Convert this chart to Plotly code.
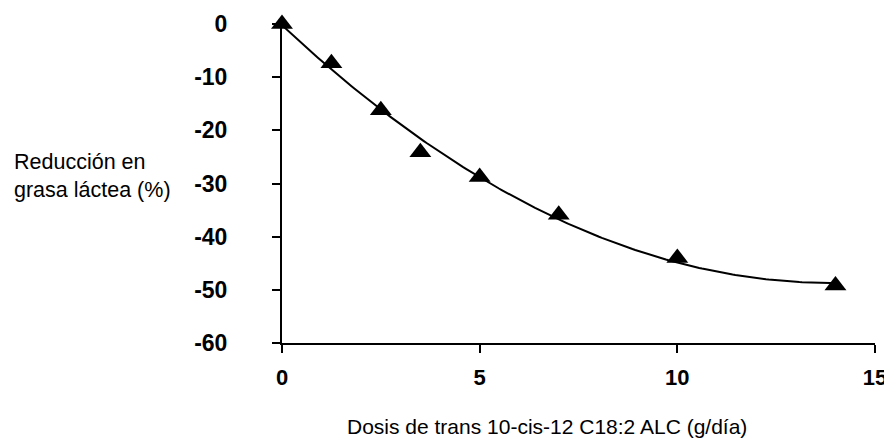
import numpy as np
import plotly.graph_objects as go

# Data
dosis = [0, 1.25, 2.5, 3.5, 5, 7, 10, 14]
reduccion = [0, -7.4, -16.2, -24.1, -28.8, -35.9, -44.0, -49.2]
x_ticks = [0, 5, 10, 15]
y_ticks = [0, -10, -20, -30, -40, -50, -60]

# Polynomial (order 2) trendline, as in the original chart
coef = np.polyfit(dosis, reduccion, 2)
xt = np.linspace(min(dosis), max(dosis), 200)
yt = np.polyval(coef, xt)

# page body has an 8px margin: the figure is sized so that it fills the window
OFF = 8
W, H = 892 - OFF, 439 - OFF
L, R, T, B = 282 - OFF, 17, 24 - OFF, 96
plot_w = W - L - R
plot_h = H - T - B
FONT = "Liberation Sans, Arial, sans-serif"


def px_x(x):  # window pixel -> paper x
    return (x - OFF - L) / plot_w


def px_y(y):  # window pixel -> paper y
    return (H - B - (y - OFF)) / plot_h


fig = go.Figure()
fig.add_trace(go.Scatter(x=xt, y=yt, mode="lines",
                         line=dict(color="black", width=2),
                         hoverinfo="skip", cliponaxis=False))
fig.add_trace(go.Scatter(x=dosis, y=reduccion, mode="markers",
                         marker=dict(symbol="triangle-up", size=19, color="black"),
                         cliponaxis=False))

fig.update_layout(
    width=W, height=H,
    margin=dict(l=L, r=R, t=T, b=B, autoexpand=False),
    plot_bgcolor="white", paper_bgcolor="white",
    showlegend=False,
    font=dict(family=FONT, color="black"),
)
fig.update_xaxes(
    range=[0, 15], tickvals=x_ticks, ticktext=[str(v) for v in x_ticks],
    showgrid=False, zeroline=False, automargin=False,
    showline=True, linecolor="black", linewidth=2,
    ticks="outside", ticklen=8, tickwidth=2, tickcolor="black",
    tickfont=dict(size=22, family=FONT, weight="bold"),
    ticklabelstandoff=6,
)
fig.update_yaxes(
    range=[-60, 0], tickvals=y_ticks, ticktext=[str(v) for v in y_ticks],
    showgrid=False, zeroline=False, automargin=False,
    showline=True, linecolor="black", linewidth=2,
    ticks="outside", ticklen=8, tickwidth=2, tickcolor="black",
    tickfont=dict(size=23, family=FONT, weight="bold"),
    ticklabelstandoff=40,
)
# y-axis title (horizontal, two lines, left of the tick labels)
fig.add_annotation(
    text="Reducción en<br>grasa láctea (%)",
    xref="paper", yref="paper",
    x=px_x(12), y=px_y(176),
    xanchor="left", yanchor="middle", align="left",
    showarrow=False, font=dict(size=21.5, color="black", family=FONT),
)
# x-axis title
fig.add_annotation(
    text="Dosis de trans 10-cis-12 C18:2 ALC (g/día)",
    xref="paper", yref="paper",
    x=px_x(547), y=px_y(426),
    xanchor="center", yanchor="middle",
    showarrow=False, font=dict(size=21, color="black", family=FONT),
)
fig.write_html("out.html")
